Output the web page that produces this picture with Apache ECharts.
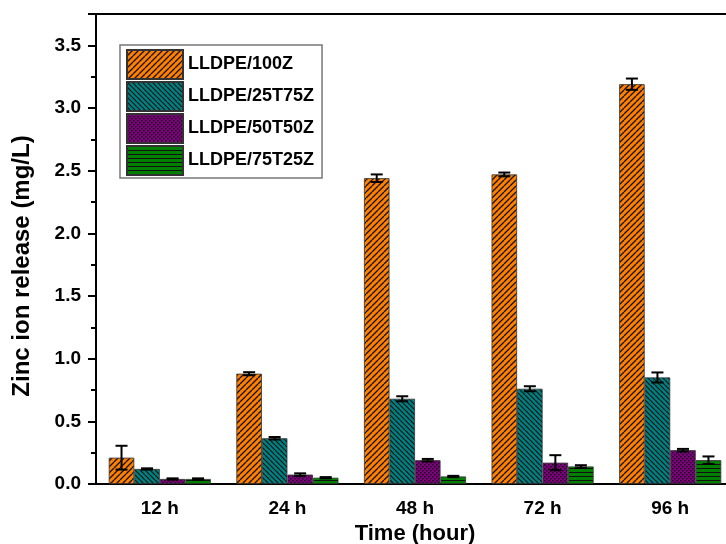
<!DOCTYPE html>
<html>
<head>
<meta charset="utf-8">
<script src="https://cdn.jsdelivr.net/npm/echarts@6/dist/echarts.min.js"></script>
<style>
  html, body { margin: 0; padding: 0; background: #fff; }
  #chart { width: 726px; height: 544px; }
</style>
</head>
<body>
<div id="chart"></div>
<script>
  // data
  const categories = ['12 h', '24 h', '48 h', '72 h', '96 h']
  const seriesNames = ['LLDPE/100Z', 'LLDPE/25T75Z', 'LLDPE/50T50Z', 'LLDPE/75T25Z']
  const v100Z = [0.21, 0.88, 2.44, 2.47, 3.19]
  const v25T75Z = [0.12, 0.365, 0.68, 0.76, 0.85]
  const v50T50Z = [0.04, 0.075, 0.19, 0.17, 0.27]
  const v75T25Z = [0.04, 0.05, 0.06, 0.14, 0.19]
  const e100Z = [0.095, 0.012, 0.03, 0.015, 0.045]
  const e25T75Z = [0.005, 0.01, 0.02, 0.02, 0.04]
  const e50T50Z = [0.005, 0.01, 0.01, 0.06, 0.01]
  const e75T25Z = [0.005, 0.005, 0.005, 0.01, 0.03]

  const values = [v100Z, v25T75Z, v50T50Z, v75T25Z]
  const errors = [e100Z, e25T75Z, e50T50Z, e75T25Z]

  const FONT = 'Arial, "Liberation Sans", sans-serif'

  // fill patterns
  function diagonal(bg, slash, size, lw) {
    let c = document.createElement('canvas')
    c.width = c.height = size
    let g = c.getContext('2d')
    g.fillStyle = bg
    g.fillRect(0, 0, size, size)
    g.strokeStyle = '#111'
    g.lineWidth = lw
    g.beginPath()
    for (let k = -1; k <= 1; k++) {
      if (slash) {
        g.moveTo(k * size, size)
        g.lineTo(k * size + size, 0)
      } else {
        g.moveTo(k * size, 0)
        g.lineTo(k * size + size, size)
      }
    }
    g.stroke()
    return { image: c, repeat: 'repeat' }
  }

  function dots(bg) {
    let c = document.createElement('canvas')
    c.width = c.height = 4
    let g = c.getContext('2d')
    g.fillStyle = bg
    g.fillRect(0, 0, 4, 4)
    g.fillStyle = '#111'
    g.fillRect(0, 0, 1.5, 1.5)
    g.fillRect(2, 2, 1.5, 1.5)
    return { image: c, repeat: 'repeat' }
  }

  function stripes(bg) {
    let c = document.createElement('canvas')
    c.width = 4
    c.height = 4
    let g = c.getContext('2d')
    g.fillStyle = bg
    g.fillRect(0, 0, 4, 4)
    g.fillStyle = '#111'
    g.fillRect(0, 0, 4, 1)
    return { image: c, repeat: 'repeat' }
  }

  const fills = [
    diagonal('#ff8000', true, 6, 1.3),
    diagonal('#008080', false, 5, 1.2),
    dots('#800080'),
    stripes('#008000')
  ]

  let chart = echarts.init(document.getElementById('chart'))

  let barSeries = seriesNames.map((name, i) => ({
    name: name,
    type: 'bar',
    xAxisIndex: 0,
    yAxisIndex: 0,
    barGap: '0%',
    barCategoryGap: '20%',
    data: values[i],
    itemStyle: { color: fills[i], borderColor: '#333', borderWidth: 0.8 },
    emphasis: { disabled: true }
  }))

  let errSeries = seriesNames.map((name, i) => ({
    type: 'custom',
    xAxisIndex: 0,
    yAxisIndex: 0,
    z: 10,
    silent: true,
    data: values[i].map((v, j) => [j, v, errors[i][j]]),
    renderItem: function (params, api) {
      let c = api.value(0)
      let v = api.value(1)
      let e = api.value(2)
      let band = api.size([1, 0])[0]
      let barW = band * 0.8 / 4
      let x = api.coord([c, v])[0] + (i - 1.5) * barW
      let top = api.coord([c, v + e])[1]
      let bot = api.coord([c, v - e])[1]
      let style = { stroke: '#000', lineWidth: 2 }
      return {
        type: 'group',
        children: [
          { type: 'line', shape: { x1: x, y1: top, x2: x, y2: bot }, style: style },
          { type: 'line', shape: { x1: x - 6, y1: top, x2: x + 6, y2: top }, style: style },
          { type: 'line', shape: { x1: x - 6, y1: bot, x2: x + 6, y2: bot }, style: style }
        ]
      }
    }
  }))

  let option = {
    animation: false,
    grid: { left: 96, right: -8, top: 14, bottom: 60, containLabel: false, outerBoundsMode: 'none' },
    legend: {
      data: seriesNames,
      orient: 'vertical',
      left: 120,
      top: 45,
      padding: [4, 8, 2, 6],
      itemWidth: 56,
      itemHeight: 29,
      itemGap: 1,
      icon: 'rect',
      borderColor: '#777',
      borderWidth: 1.5,
      backgroundColor: '#fff',
      textStyle: { fontFamily: FONT, fontWeight: 'bold', fontSize: 18, color: '#000' }
    },
    xAxis: [
      {
        type: 'category',
        data: categories,
        name: 'Time (hour)',
        nameLocation: 'middle',
        nameGap: 36,
        nameTextStyle: { fontFamily: FONT, fontWeight: 'bold', fontSize: 22, color: '#000' },
        axisLine: { lineStyle: { color: '#000', width: 2 } },
        axisTick: { alignWithLabel: true, length: 8, lineStyle: { color: '#000', width: 2 } },
        axisLabel: { margin: 15, fontFamily: FONT, fontWeight: 'bold', fontSize: 19, color: '#000' }
      },
      {
        type: 'category',
        data: categories,
        position: 'bottom',
        axisLine: { show: false },
        axisTick: { length: 4, lineStyle: { color: '#000', width: 2 } },
        axisLabel: { show: false }
      },
      {
        type: 'category',
        data: categories,
        position: 'top',
        axisLine: { lineStyle: { color: '#000', width: 2 } },
        axisTick: { show: false },
        axisLabel: { show: false }
      }
    ],
    yAxis: [
      {
        type: 'value',
        min: 0,
        max: 3.75,
        interval: 0.5,
        axisLine: { show: true, lineStyle: { color: '#000', width: 2 } },
        axisTick: { show: true, length: 8, lineStyle: { color: '#000', width: 2 } },
        splitLine: { show: false },
        axisLabel: {
          margin: 15,
          fontFamily: FONT,
          fontWeight: 'bold',
          fontSize: 19,
          color: '#000',
          formatter: v => (Math.abs(v / 0.5 - Math.round(v / 0.5)) < 1e-6 ? v.toFixed(1) : '')
        }
      },
      {
        type: 'value',
        min: 0,
        max: 3.75,
        interval: 0.25,
        position: 'left',
        axisLine: { show: false },
        axisTick: { show: true, length: 5, lineStyle: { color: '#000', width: 2 } },
        splitLine: { show: false },
        axisLabel: { show: false }
      }
    ],
    graphic: [
      {
        type: 'text',
        x: 22,
        y: 266,
        rotation: Math.PI / 2,
        style: {
          text: 'Zinc ion release (mg/L)',
          fontFamily: FONT,
          fontWeight: 'bold',
          fontSize: 24,
          fill: '#000',
          align: 'center',
          verticalAlign: 'middle'
        }
      }
    ],
    series: barSeries.concat(errSeries)
  }

  chart.setOption(option)
</script>
</body>
</html>
